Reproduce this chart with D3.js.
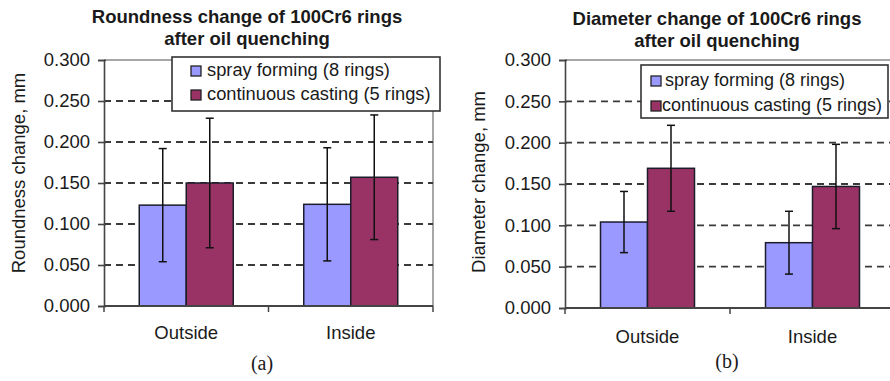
<!DOCTYPE html>
<html>
<head>
<meta charset="utf-8">
<script src="https://cdn.jsdelivr.net/npm/d3@7"></script>
<style>
    body { margin: 0; background: #fff; }
    svg { display: block; font-family: "Liberation Sans", Arial, sans-serif; }
</style>
</head>
<body>
<svg id="chart"></svg>
<script>
const CATEGORIES = ["Outside", "Inside"];
const SERIES = ["spray forming (8 rings)", "continuous casting (5 rings)"];
const SERIES_COLORS = ["#9999ff", "#993366"];
const Y_TICKS = [0, 0.05, 0.1, 0.15, 0.2, 0.25, 0.3];

// roundness change, mm
const ROUNDNESS_SPRAY = [0.123, 0.124];
const ROUNDNESS_SPRAY_ERR = [0.069, 0.069];
const ROUNDNESS_CAST = [0.150, 0.157];
const ROUNDNESS_CAST_ERR = [0.079, 0.076];

// diameter change, mm
const DIAMETER_SPRAY = [0.104, 0.079];
const DIAMETER_SPRAY_ERR = [0.037, 0.038];
const DIAMETER_CAST = [0.169, 0.147];
const DIAMETER_CAST_ERR = [0.052, 0.051];

const WIDTH = 890, HEIGHT = 381;
const GROUP_WIDTH = 94;
const TEXT_COLOR = "#1a1a1a";

const svg = d3.select("#chart")
    .attr("width", WIDTH)
    .attr("height", HEIGHT);

function drawPanel(panel) {
    const g = svg.append("g");

    let xScale = d3.scaleBand()
        .domain(CATEGORIES)
        .range([panel.left, panel.right])
        .padding(0);

    let seriesScale = d3.scaleBand()
        .domain(d3.range(SERIES.length))
        .range([0, GROUP_WIDTH]);

    let yScale = d3.scaleLinear()
        .domain([0, 0.3])
        .range([panel.bottom, panel.top]);

    // plot border (top and right)
    g.append("line")
        .attr("x1", panel.left).attr("x2", panel.right)
        .attr("y1", yScale(0.3)).attr("y2", yScale(0.3))
        .attr("stroke", "#8a8a8a").attr("stroke-width", 1.5);
    g.append("line")
        .attr("x1", panel.right).attr("x2", panel.right)
        .attr("y1", yScale(0.3)).attr("y2", yScale(0))
        .attr("stroke", "#8a8a8a").attr("stroke-width", 1.5);

    // dashed gridlines
    g.selectAll(".grid")
        .data(Y_TICKS.filter(d => d > 0 && d < 0.3))
        .enter()
        .append("line")
            .attr("x1", panel.left).attr("x2", panel.right)
            .attr("y1", d => yScale(d)).attr("y2", d => yScale(d))
            .attr("stroke", "#3a3a3a").attr("stroke-width", 1.8)
            .attr("stroke-dasharray", "7,5");

    const rows = [];
    CATEGORIES.forEach((cat, i) => {
        panel.values.forEach((vals, s) => {
            rows.push({cat: cat, s: s, value: vals[i], err: panel.errors[s][i]});
        });
    });
    const barX = d => xScale(d.cat) + (xScale.bandwidth() - GROUP_WIDTH) / 2 + seriesScale(d.s);

    g.selectAll(".bar")
        .data(rows)
        .enter()
        .append("rect")
            .attr("x", barX)
            .attr("y", d => yScale(d.value))
            .attr("width", seriesScale.bandwidth())
            .attr("height", d => yScale(0) - yScale(d.value))
            .attr("fill", d => SERIES_COLORS[d.s])
            .attr("stroke", "#1c1c2c")
            .attr("stroke-width", 1.5);

    // error bars
    const errX = d => barX(d) + seriesScale.bandwidth() / 2;
    const errBars = g.selectAll(".err")
        .data(rows)
        .enter()
        .append("g");
    errBars.append("line")
        .attr("x1", errX).attr("x2", errX)
        .attr("y1", d => yScale(d.value + d.err))
        .attr("y2", d => yScale(d.value - d.err));
    errBars.append("line")
        .attr("x1", d => errX(d) - 4).attr("x2", d => errX(d) + 4)
        .attr("y1", d => yScale(d.value + d.err))
        .attr("y2", d => yScale(d.value + d.err));
    errBars.append("line")
        .attr("x1", d => errX(d) - 4).attr("x2", d => errX(d) + 4)
        .attr("y1", d => yScale(d.value - d.err))
        .attr("y2", d => yScale(d.value - d.err));
    errBars.selectAll("line")
        .attr("stroke", "#111").attr("stroke-width", 1.5);

    // y axis
    let yAxis = d3.axisLeft(yScale)
        .tickValues(Y_TICKS)
        .tickFormat(d3.format(".3f"))
        .tickSize(6)
        .tickPadding(8);
    g.append("g")
        .attr("transform", `translate(${panel.left}, 0)`)
        .call(yAxis)
        .call(a => a.selectAll("path, line").attr("stroke", "#444").attr("stroke-width", 1.6))
        .call(a => a.selectAll(".tick line").attr("x1", 2))
        .call(a => a.selectAll("text").attr("font-size", "18.5px").attr("fill", TEXT_COLOR)
            .attr("font-family", "Liberation Sans, Arial, sans-serif"));

    // x axis line with ticks at category boundaries
    g.append("line")
        .attr("x1", panel.left).attr("x2", panel.right)
        .attr("y1", yScale(0)).attr("y2", yScale(0))
        .attr("stroke", "#444").attr("stroke-width", 1.8);
    g.selectAll(".xtick")
        .data(CATEGORIES.map(c => xScale(c)).concat([panel.right]))
        .enter()
        .append("line")
            .attr("x1", d => d).attr("x2", d => d)
            .attr("y1", yScale(0)).attr("y2", yScale(0) + 6)
            .attr("stroke", "#444").attr("stroke-width", 1.5);
    g.selectAll(".xlabel")
        .data(CATEGORIES)
        .enter()
        .append("text")
            .attr("x", d => xScale(d) + xScale.bandwidth() / 2)
            .attr("y", panel.xLabelY)
            .attr("text-anchor", "middle")
            .attr("font-size", "18.5px")
            .attr("fill", TEXT_COLOR)
            .text(d => d);

    // y axis title
    g.append("text")
        .attr("transform", `translate(${panel.yTitleX}, ${panel.yTitleY}) rotate(-90)`)
        .attr("text-anchor", "middle")
        .attr("font-size", "18.5px")
        .attr("fill", TEXT_COLOR)
        .text(panel.yTitle);

    // chart title
    panel.title.forEach((line, i) => {
        g.append("text")
            .attr("x", panel.titleX)
            .attr("y", panel.titleY + i * 22)
            .attr("text-anchor", "middle")
            .attr("font-size", "18.5px")
            .attr("font-weight", "bold")
            .attr("fill", TEXT_COLOR)
            .text(line);
    });

    // legend
    const lg = panel.legend;
    g.append("rect")
        .attr("x", lg.x).attr("y", lg.y)
        .attr("width", lg.w).attr("height", lg.h)
        .attr("fill", "#fff")
        .attr("stroke", "#333").attr("stroke-width", 1.6);
    SERIES.forEach((name, s) => {
        g.append("rect")
            .attr("x", lg.x + lg.boxDx).attr("y", lg.y + lg.rowY[s] - 10)
            .attr("width", 10).attr("height", 10)
            .attr("fill", SERIES_COLORS[s])
            .attr("stroke", "#222").attr("stroke-width", 1.3);
        g.append("text")
            .attr("x", lg.x + lg.textDx[s])
            .attr("y", lg.y + lg.rowY[s])
            .attr("font-size", lg.fontSize)
            .attr("fill", TEXT_COLOR)
            .text(name);
    });

    // caption
    g.append("text")
        .attr("x", panel.captionX)
        .attr("y", panel.captionY)
        .attr("text-anchor", "middle")
        .attr("font-family", "Liberation Serif, Times New Roman, serif")
        .attr("font-size", "20px")
        .attr("fill", TEXT_COLOR)
        .text(panel.caption);
}

drawPanel({
    left: 104, right: 433, top: 60, bottom: 306,
    values: [ROUNDNESS_SPRAY, ROUNDNESS_CAST],
    errors: [ROUNDNESS_SPRAY_ERR, ROUNDNESS_CAST_ERR],
    title: ["Roundness change of 100Cr6 rings", "after oil quenching"],
    titleX: 247, titleY: 23,
    yTitle: "Roundness change, mm", yTitleX: 25, yTitleY: 173,
    xLabelY: 339,
    legend: {x: 172, y: 57, w: 268, h: 54, boxDx: 19, textDx: [35, 35], rowY: [19, 43], fontSize: "18.3px"},
    caption: "(a)", captionX: 262, captionY: 370
});

drawPanel({
    left: 565, right: 895, top: 60, bottom: 308,
    values: [DIAMETER_SPRAY, DIAMETER_CAST],
    errors: [DIAMETER_SPRAY_ERR, DIAMETER_CAST_ERR],
    title: ["Diameter change of 100Cr6 rings", "after oil quenching"],
    titleX: 717, titleY: 25,
    yTitle: "Diameter change, mm", yTitleX: 485, yTitleY: 182,
    xLabelY: 343,
    legend: {x: 641, y: 65, w: 247, h: 53, boxDx: 10, textDx: [24, 21], rowY: [21, 46], fontSize: "18px"},
    caption: "(b)", captionX: 727, captionY: 368
});
</script>
</body>
</html>
